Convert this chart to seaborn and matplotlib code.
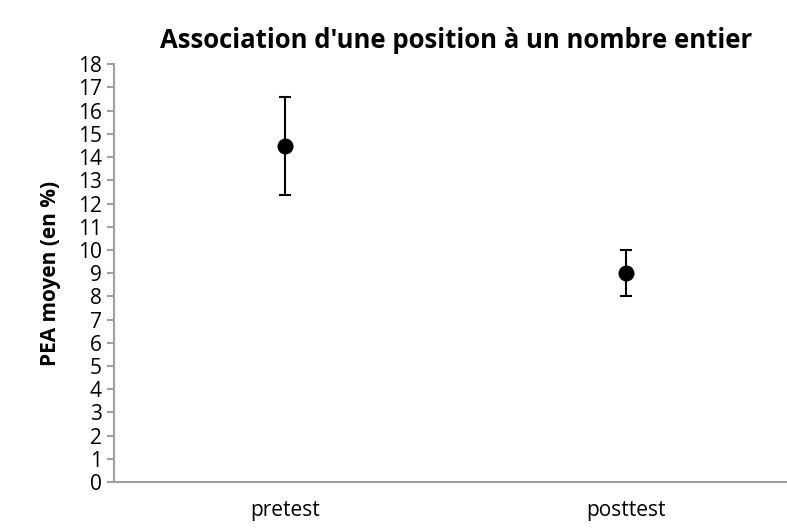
import pandas as pd
import seaborn as sns
import matplotlib.pyplot as plt

phases = ["pretest", "posttest"]
pea_mean = [14.47, 9.0]
pea_err = [2.11, 1.0]

df = pd.DataFrame({"Phase": phases, "PEA": pea_mean, "Err": pea_err})

sns.set_style("white")
plt.rcParams['font.family'] = ['Open Sans', 'DejaVu Sans']
plt.rcParams['text.color'] = 'black'
plt.rcParams['xtick.color'] = 'black'
plt.rcParams['ytick.color'] = 'black'

fig = plt.figure(figsize=(7.87, 5.31), dpi=100)
ax = fig.add_axes([0.145, 0.092, 0.868, 0.787])

sns.pointplot(data=df, x="Phase", y="PEA", color="black", linestyle="none",
              errorbar=None, markersize=9.5, ax=ax)
ax.errorbar(x=range(len(phases)), y=df["PEA"], yerr=df["Err"], fmt="none",
            ecolor="black", elinewidth=1.5, capsize=4.5, capthick=1.5)

ax.set_xlim(-0.5, 1.5)
ax.set_ylim(0, 18)
ax.set_yticks(range(0, 19))
ax.tick_params(axis="y", labelsize=15, length=5, width=1.5, color="#a0a0a0",
               direction="out", left=True, pad=4)
ax.tick_params(axis="x", labelsize=15, length=0, pad=13)

for side in ["top", "right"]:
    ax.spines[side].set_visible(False)
for side in ["left", "bottom"]:
    ax.spines[side].set_color("#a0a0a0")
    ax.spines[side].set_linewidth(1.5)

ax.set_xlabel("")
ax.set_ylabel("PEA moyen (en %)", fontsize=15, fontweight="bold", labelpad=12,
              color="black")
ax.set_title("Association d'une position à un nombre entier", fontsize=18.5,
             fontweight="bold", pad=12, color="black")

plt.savefig("out.png", dpi=100)
